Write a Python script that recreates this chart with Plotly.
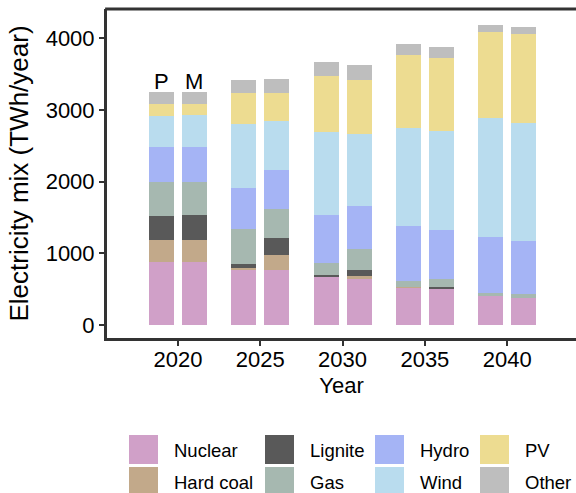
import plotly.graph_objects as go

# ------Data (TWh/year), order: 2020 P, 2020 M, 2025 P, 2025 M, ...--------

years = [2020, 2025, 2030, 2035, 2040]
scenarios = ["P", "M"]

nuclear = [879, 879, 781, 767, 670, 642, 521, 502, 405, 377]
hard_coal = [307, 307, 19, 210, 0, 42, 14, 0, 0, 0]
lignite = [335, 349, 51, 237, 28, 83, 0, 28, 0, 0]
gas = [479, 465, 489, 400, 167, 289, 79, 112, 42, 56]
hydro = [484, 484, 572, 549, 670, 604, 767, 684, 781, 739]
wind = [437, 446, 893, 684, 1158, 1005, 1368, 1381, 1660, 1642]
pv = [163, 154, 432, 390, 781, 754, 1018, 1019, 1200, 1246]
other = [167, 167, 182, 196, 196, 209, 154, 153, 98, 98]

series = [
    ("Nuclear", nuclear, "#D0A0C8"),
    ("Hard coal", hard_coal, "#C2A98A"),
    ("Lignite", lignite, "#595959"),
    ("Gas", gas, "#A6B8B0"),
    ("Hydro", hydro, "#A5B4F5"),
    ("Wind", wind, "#B9DCEE"),
    ("PV", pv, "#EDDC91"),
    ("Other", other, "#BEBEBE"),
]

offset = {"P": -1.0, "M": 1.0}
x_pos = [y + offset[s] for y in years for s in scenarios]

font = "Liberation Sans, Arial, sans-serif"
frame = "#333333"

# ------Graph Generation--------

fig = go.Figure()
for name, vals, col in series:
    fig.add_trace(go.Bar(x=x_pos, y=vals, name=name, width=1.52,
                         marker=dict(color=col, line_width=0), showlegend=False))

# P / M labels above the 2020 bars
totals = [sum(v[i] for _, v, _ in series) for i in range(len(x_pos))]
for i, s in enumerate(scenarios):
    fig.add_annotation(x=x_pos[i], y=totals[i], text=s, showarrow=False,
                       yanchor="bottom", yshift=-4, font=dict(size=22, color="black", family=font))

# --------Axes -----------

fig.update_xaxes(range=[2015.69, 2044.18], tickvals=years, ticks="outside", ticklen=5,
                 tickwidth=2, tickcolor=frame, showline=True, linewidth=3, linecolor=frame,
                 showgrid=False, zeroline=False, ticklabelstandoff=-5,
                 title=dict(text="Year", standoff=7),
                 tickfont=dict(size=22, color="black"), title_font=dict(size=22, color="black"))
fig.update_yaxes(range=[-181, 4409], tickvals=[0, 1000, 2000, 3000, 4000], ticks="outside",
                 ticklen=5, tickwidth=2, tickcolor=frame, showline=True, linewidth=3,
                 linecolor=frame, showgrid=False, zeroline=False,
                 title=dict(text="Electricity mix (TWh/year)", standoff=10),
                 tickfont=dict(size=22, color="black"), title_font=dict(size=26, color="black"))

# top border of the frame (right side is cut off)
fig.add_shape(type="line", xref="paper", yref="paper", x0=-0.004, x1=1.0, y0=1.0, y1=1.0,
              line=dict(color=frame, width=3))

# ----------Legend (drawn by hand, 2 rows x 4 columns)----------

col_x = [129, 265, 375, 480]
row_y = [435, 467]
W, H = 576, 493
ml, mt, mr, mb = 107, 9, 0, 155
pw, ph = W - ml - mr, H - mt - mb


def px2paper(x, y):
    return (x - ml) / pw, 1 - (y - mt) / ph


for k, (name, vals, col) in enumerate(series):
    c, r = k // 2, k % 2
    x0, y0 = px2paper(col_x[c], row_y[r])
    x1, y1 = px2paper(col_x[c] + 29, row_y[r] + 29)
    fig.add_shape(type="rect", xref="paper", yref="paper", x0=x0, x1=x1, y0=y0, y1=y1,
                  line_width=0, fillcolor=col)
    tx, ty = px2paper(col_x[c] + 43, row_y[r] + 15)
    fig.add_annotation(xref="paper", yref="paper", x=tx, y=ty, text=name, showarrow=False,
                       xanchor="left", yanchor="middle",
                       font=dict(size=18.5, color="black", family=font))

fig.update_layout(
    barmode="stack",
    width=W, height=H,
    margin=dict(l=ml, r=mr, t=mt, b=mb),
    plot_bgcolor="white", paper_bgcolor="white",
    font=dict(family=font, color="black"),
    bargap=0,
)

fig.write_html("out.html", config={"displayModeBar": False},
               post_script="document.body.style.margin='0';document.body.style.overflow='hidden';")
